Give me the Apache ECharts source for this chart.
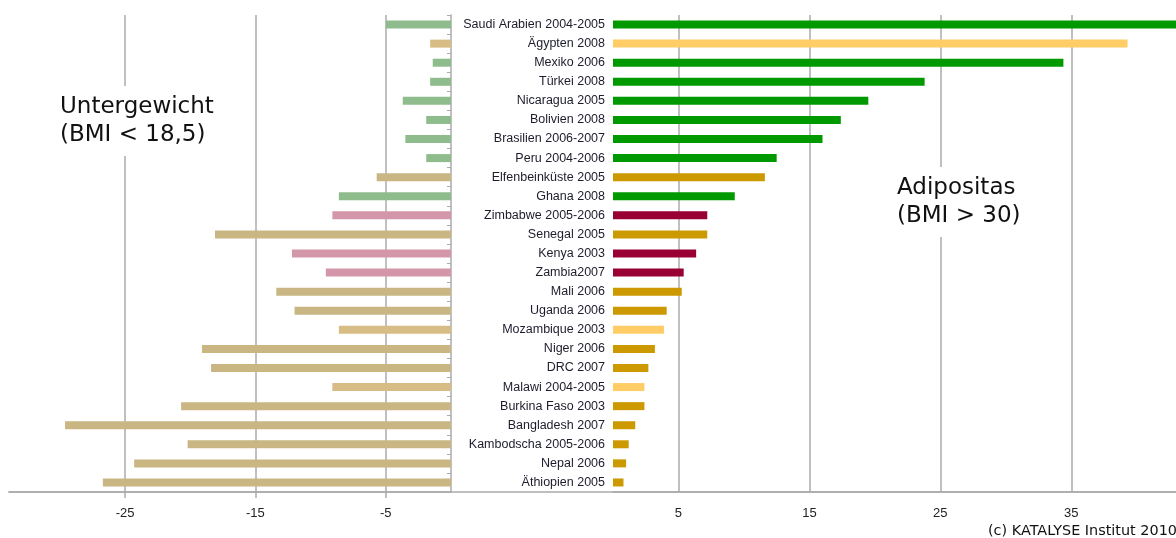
<!DOCTYPE html>
<html><head><meta charset="utf-8">
<script src="https://cdn.jsdelivr.net/npm/echarts@6/dist/echarts.min.js"></script>
<style>html,body{margin:0;padding:0;background:#fff}#c{width:1176px;height:538px}</style>
</head><body><div id="c"></div>
<script>
const categories = [
  'Saudi Arabien 2004-2005','Ägypten 2008','Mexiko 2006','Türkei 2008','Nicaragua 2005',
  'Bolivien 2008','Brasilien 2006-2007','Peru 2004-2006','Elfenbeinküste 2005','Ghana 2008',
  'Zimbabwe 2005-2006','Senegal 2005','Kenya 2003','Zambia2007','Mali 2006',
  'Uganda 2006','Mozambique 2003','Niger 2006','DRC 2007','Malawi 2004-2005',
  'Burkina Faso 2003','Bangladesh 2007','Kambodscha 2005-2006','Nepal 2006','Äthiopien 2005'
];
// Untergewicht (BMI < 18,5), percent (shown to the left)
const underweight = [
  -5.0, -1.6, -1.4, -1.6, -3.7,
  -1.9, -3.5, -1.9, -5.7, -8.6,
  -9.1, -18.1, -12.2, -9.6, -13.4,
  -12.0, -8.6, -19.1, -18.4, -9.1,
  -20.7, -29.6, -20.2, -24.3, -26.7
];
// Adipositas (BMI > 30), percent (shown to the right)
const obesity = [
  44.0, 39.3, 34.4, 23.8, 19.5,
  17.4, 16.0, 12.5, 11.6, 9.3,
  7.2, 7.2, 6.35, 5.4, 5.25,
  4.1, 3.9, 3.2, 2.7, 2.4,
  2.4, 1.7, 1.2, 1.0, 0.8
];
// colour group of each country
const groups = [
  'green','light','green','green','green',
  'green','green','green','gold','green',
  'red','gold','red','red','gold',
  'gold','light','gold','gold','light',
  'gold','gold','gold','gold','gold'
];
const leftTicks = [-25, -15, -5];
const rightTicks = [5, 15, 25, 35];

const strongColor = {green:'#009900', light:'#ffcc66', gold:'#cc9900', red:'#990033'};
const fadedColor  = {green:'#8fbc8c', light:'#d8bc85', gold:'#c9b683', red:'#d497aa'};

const gridCol = '#ababab';
const FONT = 'Liberation Sans';

const chart = echarts.init(document.getElementById('c'), null, {renderer:'canvas'});
chart.setOption({
  animation: false,
  backgroundColor: '#fff',
  title: [
    {text: 'Untergewicht\n(BMI < 18,5)', left: 55, top: 86, padding: [7, 5],
     backgroundColor: '#fff',
     textStyle: {fontFamily: 'DejaVu Sans', fontSize: 23, fontWeight: 'normal', color: '#111', lineHeight: 28}},
    {text: 'Adipositas\n(BMI > 30)', left: 892, top: 167, padding: [7, 5],
     backgroundColor: '#fff',
     textStyle: {fontFamily: 'DejaVu Sans', fontSize: 23, fontWeight: 'normal', color: '#111', lineHeight: 28}},
    {text: '(c) KATALYSE Institut 2010', left: 988, top: 524, padding: 0,
     textStyle: {fontFamily: 'DejaVu Sans', fontSize: 14.4, fontWeight: 'normal', color: '#111'}}
  ],
  grid: [
    {left: 9, width: 442, top: 15, height: 477, outerBoundsMode: 'none'},
    {left: 613, right: 0, top: 15, height: 477, outerBoundsMode: 'none'},
    {left: 9, right: 0, top: 15, height: 477, outerBoundsMode: 'none'}
  ],
  xAxis: [
    {gridIndex: 0, type: 'value', min: -33.9, max: 0,
     axisLine: {show: true, lineStyle: {color: gridCol, width: 1.5}},
     axisTick: {show: true, length: 6, customValues: leftTicks, lineStyle: {color: gridCol, width: 1.5}},
     axisLabel: {customValues: leftTicks, margin: 15, fontFamily: FONT, fontSize: 13, color: '#222'},
     splitLine: {show: true, lineStyle: {color: gridCol, width: 1.5}}},
    {gridIndex: 1, type: 'value', min: 0, max: 43.0,
     axisLine: {show: true, lineStyle: {color: gridCol, width: 1.5}},
     axisTick: {show: false, customValues: rightTicks},
     axisLabel: {customValues: rightTicks, margin: 15, fontFamily: FONT, fontSize: 13, color: '#222'},
     splitLine: {show: true, lineStyle: {color: gridCol, width: 1.5}}},
    {gridIndex: 2, type: 'value', min: 0, max: 1,
     axisLine: {show: true, lineStyle: {color: gridCol, width: 1.5}},
     axisTick: {show: false}, axisLabel: {show: false}, splitLine: {show: false}}
  ],
  yAxis: [
    {gridIndex: 0, type: 'category', data: categories, inverse: true, position: 'right',
     axisLine: {show: true, onZero: false, lineStyle: {color: gridCol, width: 1.5}},
     axisTick: {show: true, inside: true, length: 4, lineStyle: {color: gridCol}},
     axisLabel: {show: false}, splitLine: {show: false}},
    {gridIndex: 1, type: 'category', data: categories, inverse: true, position: 'left',
     axisLine: {show: false}, axisTick: {show: false},
     axisLabel: {show: true, margin: 8, fontFamily: FONT, fontSize: 12.5, color: '#1c1c2c'},
     splitLine: {show: false}},
    {gridIndex: 2, type: 'value', show: false}
  ],
  series: [
    {type: 'bar', xAxisIndex: 0, yAxisIndex: 0, barWidth: 8, clip: true,
     data: underweight.map((v, i) => ({value: v, itemStyle: {color: fadedColor[groups[i]]}}))},
    {type: 'bar', xAxisIndex: 1, yAxisIndex: 1, barWidth: 8, clip: true,
     data: obesity.map((v, i) => ({value: v, itemStyle: {color: strongColor[groups[i]]}}))}
  ]
});
</script>
</body></html>
